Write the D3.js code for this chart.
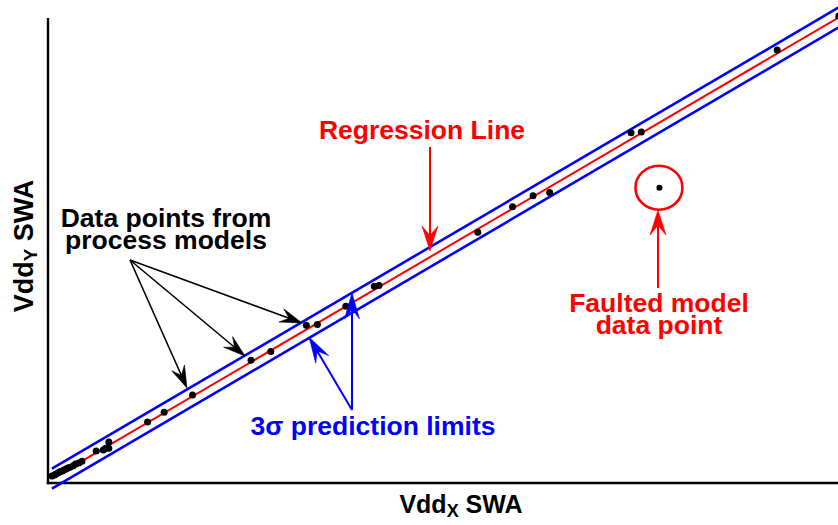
<!DOCTYPE html>
<html>
<head>
<meta charset="utf-8">
<script src="https://cdn.jsdelivr.net/npm/d3@7/dist/d3.min.js"></script>
<style>
  html, body { margin: 0; padding: 0; background: #fff; }
  svg { display: block; }
  text { font-family: "Liberation Sans", Arial, Helvetica, sans-serif; font-weight: bold; }
</style>
</head>
<body>
<svg id="chart" width="838" height="525"></svg>
<script>
// Switching-activity comparison: process-model data points (x = VddX SWA, y = VddY SWA)
const modelX = [0.5, 0.8, 1.0, 1.3, 1.5, 1.8, 2.0, 2.3, 2.5, 2.8, 3.2, 3.5, 3.9, 4.3,
                6.1, 7.0, 7.3, 7.7, 7.7, 12.6, 14.7, 18.3, 25.7, 28.2, 32.7, 34.1,
                37.7, 41.3, 41.9, 54.4, 58.8, 61.4, 63.5, 73.8, 75.1, 92.3, 100.1];
const modelY = [1.5, 1.7, 1.9, 2.2, 2.4, 2.6, 2.8, 3.0, 3.2, 3.4, 3.7, 4.1, 4.3, 4.7,
                6.9, 7.1, 7.5, 8.8, 7.5, 13.1, 15.2, 18.9, 26.4, 28.3, 33.9, 34.1,
                38.0, 42.3, 42.5, 53.9, 59.4, 61.8, 62.5, 75.3, 75.5, 93.1, 100.4];

// The single faulted model
const faultX = [77.4];
const faultY = [63.5];

// Least-squares fit and the half-width of the 3-sigma prediction band
const fitIntercept = 0.43;
const fitSlope = 0.996;
const limitHalfWidth = 2.15;
const lineX = [0.5, 101.5];

const xDomain = [0, 100];
const yDomain = [0, 100];

const svg = d3.select("#chart");
const x = d3.scaleLinear().domain(xDomain).range([48, 838]);
const y = d3.scaleLinear().domain(yDomain).range([483, 18]);

const RED = "#ff0000", BLUE = "#0000ff", BLACK = "#000000";

// Axes: bare lines, no ticks
svg.append("line").attr("x1", x(0)).attr("x2", x(0)).attr("y1", y(100)).attr("y2", y(0) + 1.2)
  .attr("stroke", BLACK).attr("stroke-width", 2.4);
svg.append("line").attr("x1", x(0) - 1.2).attr("x2", 838).attr("y1", y(0)).attr("y2", y(0))
  .attr("stroke", BLACK).attr("stroke-width", 2.4);

// Regression line and prediction limits
const fit = v => fitIntercept + fitSlope * v;
const lineGen = off => d3.line().x(d => x(d)).y(d => y(fit(d) + off));
[limitHalfWidth, -limitHalfWidth].forEach(off => {
  svg.append("path").datum(lineX).attr("d", lineGen(off))
    .attr("fill", "none").attr("stroke", BLUE).attr("stroke-width", 2.6);
});
svg.append("path").datum(lineX).attr("d", lineGen(0))
  .attr("fill", "none").attr("stroke", RED).attr("stroke-width", 2);

// Data points
svg.append("g").selectAll("circle").data(d3.range(modelX.length)).join("circle")
  .attr("cx", i => x(modelX[i])).attr("cy", i => y(modelY[i])).attr("r", 3.5)
  .attr("fill", BLACK);
svg.append("g").selectAll("circle").data(d3.range(faultX.length)).join("circle")
  .attr("cx", i => x(faultX[i])).attr("cy", i => y(faultY[i])).attr("r", 3)
  .attr("fill", BLACK);

// Ring around the faulted point
svg.append("ellipse").attr("cx", x(faultX[0]) - 0.5).attr("cy", y(faultY[0]))
  .attr("rx", 23.5).attr("ry", 22).attr("fill", "none")
  .attr("stroke", RED).attr("stroke-width", 2.6);

// Arrow helper: shaft plus a notched head at (x2, y2)
function arrow(x1, y1, x2, y2, color, len, wid, sw) {
  const a = Math.atan2(y2 - y1, x2 - x1);
  const ca = Math.cos(a), sa = Math.sin(a);
  const pt = (u, v) => [x2 + u * ca - v * sa, y2 + u * sa + v * ca];
  const notch = pt(-len * 0.62, 0);
  svg.append("line").attr("x1", x1).attr("y1", y1).attr("x2", notch[0]).attr("y2", notch[1])
    .attr("stroke", color).attr("stroke-width", sw);
  const p = [pt(0, 0), pt(-len, wid / 2), notch, pt(-len, -wid / 2)];
  svg.append("path").attr("d", "M" + p.map(q => q.join(",")).join("L") + "Z")
    .attr("fill", color).attr("stroke", color).attr("stroke-width", 0.6)
    .attr("stroke-linejoin", "miter");
}

// Black arrows to sample points
arrow(130, 260, 302, 323, BLACK, 22, 14, 1.6);
arrow(130, 260, 245, 356, BLACK, 22, 14, 1.6);
arrow(130, 260, 187, 388, BLACK, 22, 14, 1.6);
// Regression line arrow
arrow(430, 147, 430, 251, RED, 25, 16, 2);
// Faulted point arrow
arrow(658, 288, 658, 210, RED, 25, 16, 2);
// Prediction-limit arrows
arrow(352, 410, 352, 293, BLUE, 26, 15, 2);
arrow(352, 410, 309, 337, BLUE, 26, 15, 2);

// Annotation text (multi-line labels are one text element with stacked tspans)
const fs = 26.5;
function label(tx, ty, lines, color) {
  const t = svg.append("text").attr("x", tx).attr("y", ty).attr("text-anchor", "middle")
    .attr("fill", color).attr("font-size", fs);
  lines.forEach((s, i) => {
    t.append("tspan").attr("x", tx).attr("dy", i === 0 ? 0 : 22).text(s);
  });
  return t;
}
label(422, 139, ["Regression Line"], RED);
label(166, 227, ["Data points from", "process models"], BLACK);
label(659, 312, ["Faulted model", "data point"], RED);
label(373, 435, ["3\u03c3 prediction limits"], BLUE);

// Axis titles with subscripts
const xt = svg.append("text").attr("x", 461).attr("y", 513).attr("text-anchor", "middle")
  .attr("font-size", 25).attr("fill", BLACK);
xt.append("tspan").text("Vdd");
xt.append("tspan").attr("font-size", 18).attr("dy", 4).text("X");
xt.append("tspan").attr("dy", -4).text(" SWA");

const yt = svg.append("text").attr("transform", "translate(33,246) rotate(-90)")
  .attr("text-anchor", "middle").attr("font-size", 27).attr("fill", BLACK);
yt.append("tspan").text("Vdd");
yt.append("tspan").attr("font-size", 19).attr("dy", 4).text("Y");
yt.append("tspan").attr("dy", -4).text(" SWA");
</script>
</body>
</html>
